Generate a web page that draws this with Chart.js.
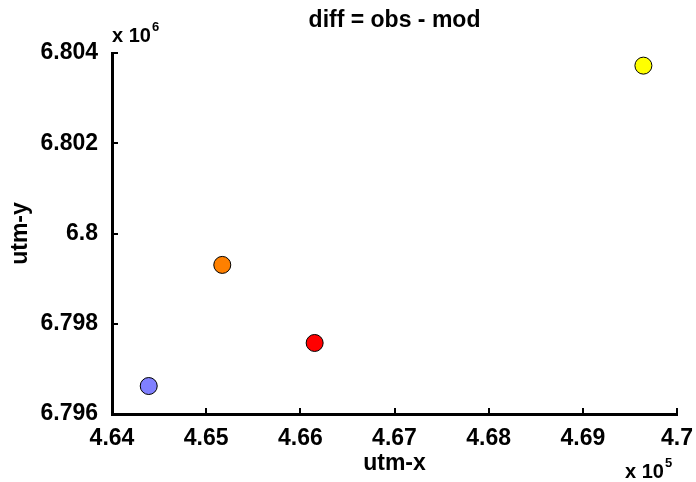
<!DOCTYPE html>
<html><head><meta charset="utf-8">
<script src="https://cdn.jsdelivr.net/npm/chart.js@4/dist/chart.umd.min.js"></script>
<style>html,body{margin:0;padding:0;background:#fff}#wrap{width:696px;height:482px}</style>
</head><body><div id="wrap"><canvas id="c" width="696" height="482"></canvas></div>
<script>
const pointNames = ["p1","p2","p3","p4"];
const utmX = [464390, 465171, 466152, 469643];
const utmY = [6796620, 6799304, 6797574, 6803720];
const pointColors = ["#8080ff", "#ff8000", "#ff0000", "#ffff00"];
const xTicks = [464000,465000,466000,467000,468000,469000,470000];
const yTicks = [6796000,6798000,6800000,6802000,6804000];
const titleText = "diff = obs - mod";
const xLabel = "utm-x", yLabel = "utm-y";

const FONT = "'Liberation Sans', Arial, Helvetica, sans-serif";
const fmt = (v, s) => parseFloat((v / s).toFixed(3)).toString();

const textPlugin = {
  id: 'texts',
  afterDraw(chart) {
    const ctx = chart.ctx, a = chart.chartArea;
    const xs = chart.scales.x, ys = chart.scales.y;
    ctx.save();
    ctx.strokeStyle = '#000'; ctx.lineWidth = 2;
    // inward ticks
    xTicks.forEach(v => { const p = Math.round(xs.getPixelForValue(v));
      ctx.beginPath(); ctx.moveTo(p, a.bottom); ctx.lineTo(p, a.bottom - 6); ctx.stroke(); });
    yTicks.forEach(v => { const p = Math.round(ys.getPixelForValue(v));
      ctx.beginPath(); ctx.moveTo(a.left, p); ctx.lineTo(a.left + 6, p); ctx.stroke(); });
    ctx.fillStyle = '#000';
    const cx = (a.left + a.right) / 2;
    ctx.font = "bold 23px " + FONT; ctx.textAlign = 'center'; ctx.textBaseline = 'middle';
    ctx.fillText(titleText, cx, 21);
    ctx.font = "bold 23px " + FONT;
    ctx.fillText(xLabel, cx, 464);
    ctx.save(); ctx.translate(21, (a.top + a.bottom) / 2); ctx.rotate(-Math.PI / 2);
    ctx.fillText(yLabel, 0, 0); ctx.restore();
    // exponents
    ctx.textAlign = 'left'; ctx.textBaseline = 'alphabetic';
    ctx.font = "bold 20px " + FONT;
    ctx.fillText("x 10", 112, 42);
    let w = ctx.measureText("x 10").width;
    ctx.font = "bold 13px " + FONT; ctx.fillText("6", 112 + w + 1, 31);
    ctx.font = "bold 20px " + FONT;
    ctx.fillText("x 10", 625, 478);
    ctx.font = "bold 13px " + FONT; ctx.fillText("5", 625 + w + 1, 467);
    ctx.restore();
  }
};

new Chart(document.getElementById('c'), {
  type: 'scatter',
  data: { datasets: [{
    data: utmX.map((x, i) => ({ x, y: utmY[i] })),
    backgroundColor: pointColors,
    borderColor: '#000',
    borderWidth: 1,
    pointRadius: 8.5,
    pointHoverRadius: 8.5
  }] },
  options: {
    responsive: false, animation: false,
    layout: { padding: { top: 53, right: 15, left: 0, bottom: 0 } },
    plugins: { legend: { display: false }, tooltip: { enabled: false }, title: { display: false } },
    scales: {
      x: {
        type: 'linear', min: 464000, max: 470000,
        afterBuildTicks: s => { s.ticks = xTicks.map(v => ({ value: v })); },
        afterFit: s => { s.height = 68; },
        grid: { display: false },
        border: { display: true, color: '#000', width: 3 },
        ticks: { color: '#000', padding: 3, maxRotation: 0, autoSkip: false,
          font: { family: FONT, size: 23, weight: 'bold' },
          callback: v => fmt(v, 1e5) }
      },
      y: {
        type: 'linear', min: 6796000, max: 6804000,
        afterBuildTicks: s => { s.ticks = yTicks.map(v => ({ value: v })); },
        afterFit: s => { s.width = 112; },
        grid: { display: false },
        border: { display: true, color: '#000', width: 3 },
        ticks: { color: '#000', padding: 6, autoSkip: false,
          font: { family: FONT, size: 23, weight: 'bold' },
          callback: v => fmt(v, 1e6) }
      }
    }
  },
  plugins: [textPlugin]
});
</script></body></html>
